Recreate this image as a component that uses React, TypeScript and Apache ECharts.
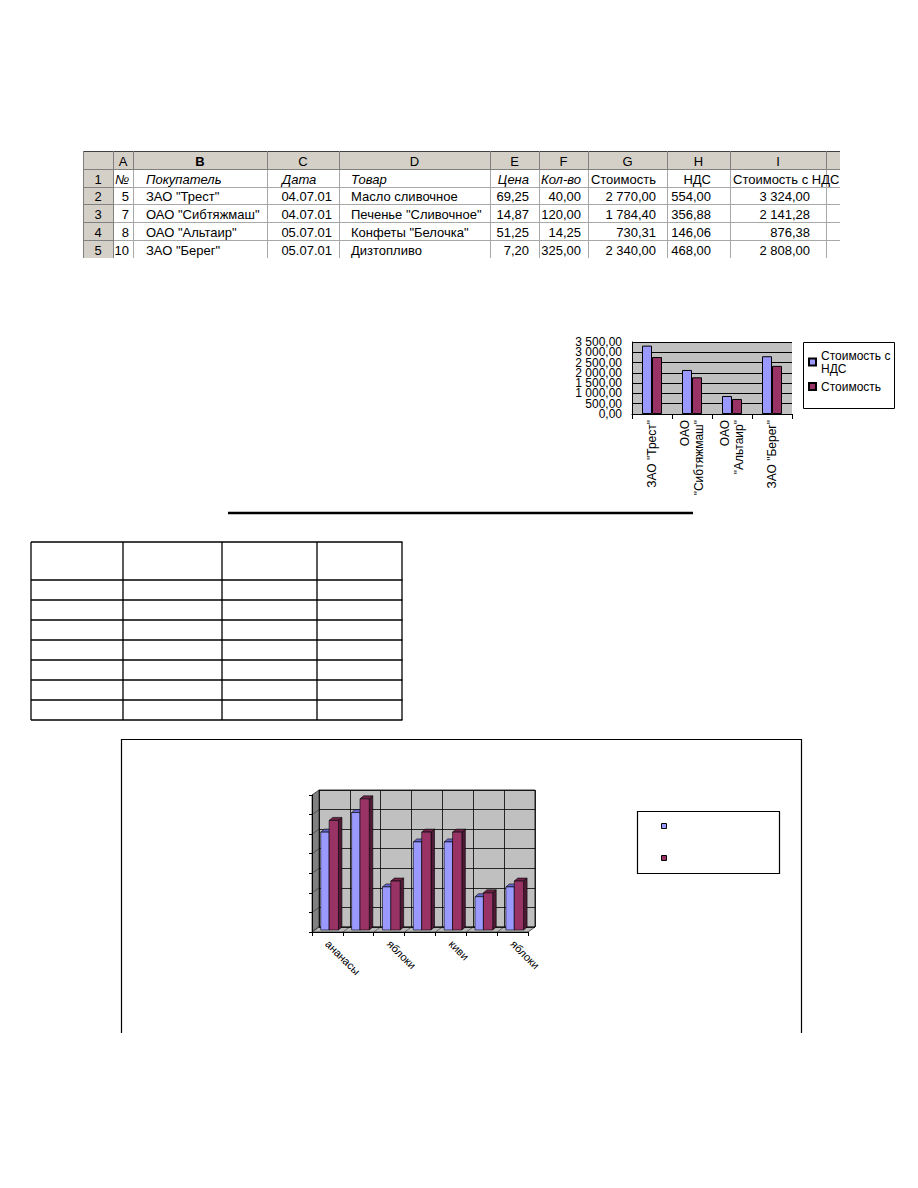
import React, { useEffect, useRef } from 'react';
import * as echarts from 'echarts';

// ---------- data: spreadsheet ----------
const rowNumbers = ['1', '2', '3', '4', '5'];
const columnLetters = ['A', 'B', 'C', 'D', 'E', 'F', 'G', 'H', 'I'];
const headers = ['№', 'Покупатель', 'Дата', 'Товар', 'Цена', 'Кол-во', 'Стоимость', 'НДС', 'Стоимость с НДС'];
const orderNo = [5, 7, 8, 10];
const buyers = ['ЗАО "Трест"', 'ОАО "Сибтяжмаш"', 'ОАО "Альтаир"', 'ЗАО "Берег"'];
const dates = ['04.07.01', '04.07.01', '05.07.01', '05.07.01'];
const goods = ['Масло сливочное', 'Печенье "Сливочное"', 'Конфеты "Белочка"', 'Дизтопливо'];
const prices = [69.25, 14.87, 51.25, 7.2];
const quantities = [40, 120, 14.25, 325];
const costs = [2770, 1784.4, 730.31, 2340];
const vats = [554, 356.88, 146.06, 468];
const costsWithVat = [3324, 2141.28, 876.38, 2808];

// ---------- data: small chart axis ----------
const smallYTicks = [0, 500, 1000, 1500, 2000, 2500, 3000, 3500];
const smallYMax = 3500;
const smallYStep = 500;

// ---------- data: 3D fruit chart ----------
const fruitCategories = ['ананасы', '', 'яблоки', '', 'киви', '', 'яблоки'];
const fruitSeriesA = [50, 60, 22, 45, 45, 17, 22];
const fruitSeriesB = [56, 67, 25, 50, 50, 19, 25];
const fruitYMax = 70;
const fruitYStep = 10;

const FONT = "'Liberation Sans', Arial, Helvetica, sans-serif";
const BLUE = '#9999FF';
const MAROON = '#993366';

function ru(v: number): string {
  const [i, f] = v.toFixed(2).split('.');
  return i.replace(/\B(?=(\d{3})+(?!\d))/g, ' ') + ',' + f;
}
function wrapName(n: string): string {
  return n.length > 12 ? n.replace(' ', '\n') : n;
}

// layout (positions only)
const COL = [83, 113, 133, 267, 339, 490, 539, 588, 667, 730, 826, 840];
const ROW = [151, 169, 187, 204, 222, 240, 258];
const dataAnchor: [number, string][] = [[129, 'right'], [146, 'left'], [332, 'right'], [351, 'left'], [529, 'right'], [581, 'right'], [656, 'right'], [711, 'right'], [810, 'right']];
const headAnchor: [number, string][] = [[115, 'left'], [146, 'left'], [282, 'left'], [351, 'left'], [529, 'right'], [581, 'right'], [656, 'right'], [711, 'right'], [733, 'left']];

function line(x1: number, y1: number, x2: number, y2: number, stroke: string, lineWidth = 1) {
  return { type: 'line', silent: true, shape: { x1, y1, x2, y2 }, style: { stroke, lineWidth } };
}
function text(x: number, y: number, t: string, align: string, extra: any = {}) {
  return {
    type: 'text', silent: true, x, y,
    style: { text: t, fill: '#000', fontSize: 13, fontFamily: FONT, align, verticalAlign: 'middle', ...extra },
  };
}

function buildSpreadsheet(): any[] {
  const els: any[] = [];
  const right = COL[COL.length - 1];
  els.push({ type: 'rect', silent: true, shape: { x: COL[0], y: ROW[0], width: right - COL[0], height: ROW[1] - ROW[0] }, style: { fill: '#D4D0C8' } });
  els.push({ type: 'rect', silent: true, shape: { x: COL[0], y: ROW[1], width: COL[1] - COL[0], height: ROW[6] - ROW[1] }, style: { fill: '#D4D0C8' } });
  for (let r = 2; r < ROW.length - 1; r++) els.push(line(COL[1], ROW[r] + 0.5, right, ROW[r] + 0.5, '#A8A8A8'));
  for (let c = 2; c < COL.length - 1; c++) els.push(line(COL[c] + 0.5, ROW[1], COL[c] + 0.5, ROW[6], '#A8A8A8'));
  els.push(line(COL[0], ROW[0] + 0.5, right, ROW[0] + 0.5, '#404040'));
  els.push(line(COL[0], ROW[1] + 0.5, right, ROW[1] + 0.5, '#808080'));
  els.push(line(COL[0] + 0.5, ROW[0], COL[0] + 0.5, ROW[6], '#808080'));
  for (let c = 1; c < COL.length - 1; c++) els.push(line(COL[c] + 0.5, ROW[0], COL[c] + 0.5, ROW[1], '#808080'));
  els.push(line(COL[1] + 0.5, ROW[1], COL[1] + 0.5, ROW[6], '#808080'));
  for (let r = 2; r < ROW.length - 1; r++) els.push(line(COL[0], ROW[r] + 0.5, COL[1], ROW[r] + 0.5, '#808080'));
  columnLetters.forEach((l, i) => {
    const cx = (COL[i + 1] + COL[i + 2]) / 2;
    els.push(text(cx, (ROW[0] + ROW[1]) / 2 + 1, l, 'center', l === 'B' ? { fontWeight: 'bold' } : {}));
  });
  rowNumbers.forEach((n, i) => {
    els.push(text((COL[0] + COL[1]) / 2, (ROW[i + 1] + ROW[i + 2]) / 2 + 1, n, 'center'));
  });
  headers.forEach((h, i) => {
    els.push(text(headAnchor[i][0], (ROW[1] + ROW[2]) / 2 + 1, h, headAnchor[i][1], i < 6 ? { fontStyle: 'italic' } : {}));
  });
  orderNo.forEach((n, r) => {
    const cells = [String(n), buyers[r], dates[r], goods[r], ru(prices[r]), ru(quantities[r]), ru(costs[r]), ru(vats[r]), ru(costsWithVat[r])];
    const cy = (ROW[r + 2] + ROW[r + 3]) / 2 + 1;
    cells.forEach((t, c) => els.push(text(dataAnchor[c][0], cy, t, dataAnchor[c][1])));
  });
  return els;
}

function buildStatic(): any[] {
  const els: any[] = [];
  els.push({ type: 'rect', silent: true, z: -1, shape: { x: 803.5, y: 342.5, width: 91, height: 66 }, style: { fill: '#fff', stroke: '#000', lineWidth: 1 } });
  els.push(line(228, 513, 693, 513, '#000', 2.5));
  const tx = [31, 123, 222, 317, 402];
  const ty = [542, 580, 600, 620, 640, 660, 680, 700, 720];
  ty.forEach((y) => els.push(line(tx[0], y, tx[tx.length - 1] + 0.5, y, '#000', 1.3)));
  tx.forEach((x) => els.push(line(x, ty[0], x, ty[ty.length - 1], '#000', 1.3)));
  els.push({ type: 'polyline', silent: true, shape: { points: [[121.5, 1033], [121.5, 739.5], [801.5, 739.5], [801.5, 1033]] }, style: { stroke: '#000', lineWidth: 1.2, fill: null } });
  const fx = 312, bx = 319, fTop = 795, bTop = 790, fBot = 932, bBot = 927, fRight = 528, bRight = 535;
  els.push({ type: 'polygon', silent: true, shape: { points: [[fx, fTop], [bx, bTop], [bx, bBot], [fx, fBot]] }, style: { fill: '#808080', stroke: '#000', lineWidth: 0.6 } });
  const n = fruitYMax / fruitYStep;
  for (let k = 1; k < n; k++) {
    const t = k / n;
    els.push(line(fx, fTop + (fBot - fTop) * t, bx, bTop + (bBot - bTop) * t, '#303030', 0.6));
  }
  els.push({ type: 'polygon', silent: true, shape: { points: [[fx, fBot], [bx, bBot], [bRight, bBot], [fRight, fBot]] }, style: { fill: '#B8B8B8', stroke: '#000', lineWidth: 0.6 } });
  const nc = fruitCategories.length;
  for (let k = 1; k < nc; k++) {
    const t = k / nc;
    els.push(line(fx + (fRight - fx) * t, fBot, bx + (bRight - bx) * t, bBot, '#303030', 0.6));
  }
  els.push({ type: 'rect', silent: true, shape: { x: 637.5, y: 811.5, width: 142, height: 62 }, style: { fill: '#fff', stroke: '#000', lineWidth: 1.2 } });
  els.push({ type: 'rect', silent: true, shape: { x: 661.5, y: 823.5, width: 5, height: 5 }, style: { fill: BLUE, stroke: '#000', lineWidth: 1 } });
  els.push({ type: 'rect', silent: true, shape: { x: 661.5, y: 855.5, width: 5, height: 5 }, style: { fill: MAROON, stroke: '#000', lineWidth: 1 } });
  return els;
}

function bar3d(front: string, top: string, side: string, off0: number, off1: number) {
  return (params: any, api: any) => {
    const i = api.value(0);
    const v = api.value(1);
    const base = api.coord([i, 0]);
    const tp = api.coord([i, v]);
    const x0 = base[0] + off0;
    const x1 = base[0] + off1;
    const yb = base[1] - 2;
    const yt = tp[1] - 2;
    const dx = 3.5, dy = -3;
    const st = { stroke: '#000', lineWidth: 0.6 };
    return {
      type: 'group',
      children: [
        { type: 'polygon', shape: { points: [[x1, yb], [x1 + dx, yb + dy], [x1 + dx, yt + dy], [x1, yt]] }, style: { fill: side, ...st } },
        { type: 'polygon', shape: { points: [[x0, yt], [x0 + dx, yt + dy], [x1 + dx, yt + dy], [x1, yt]] }, style: { fill: top, ...st } },
        { type: 'rect', shape: { x: x0, y: yt, width: x1 - x0, height: yb - yt }, style: { fill: front, ...st } },
      ],
    };
  };
}

// y-axis labels of the small chart, placed through the axis scale (Excel lets them overlap)
function yLabelItem(params: any, api: any) {
  const v = api.value(1);
  const p = api.coord([0, v]);
  const halfBand = api.size([1, 0])[0] / 2;
  return {
    type: 'text', silent: true,
    x: p[0] - halfBand - 10, y: p[1],
    style: { text: ru(v), fill: '#000', fontSize: 12, fontFamily: FONT, align: 'right', verticalAlign: 'middle' },
  };
}

export default function App() {
  const ref = useRef<HTMLDivElement>(null);
  useEffect(() => {
    if (!ref.current) return;
    const chart = echarts.init(ref.current, undefined, { renderer: 'svg' });
    const axisBlack = { lineStyle: { color: '#000', width: 1 } };
    const option: any = {
      animation: false,
      backgroundColor: '#fff',
      textStyle: { fontFamily: FONT, color: '#000' },
      grid: [
        { left: 632, top: 342, width: 160, height: 72, show: true, backgroundColor: '#C0C0C0', borderWidth: 0 },
        { left: 319, top: 790, width: 216, height: 137, show: true, backgroundColor: '#C0C0C0', borderColor: '#000', borderWidth: 0.8 },
        { left: 312, top: 795, width: 216, height: 137, show: false },
      ],
      xAxis: [
        {
          type: 'category', gridIndex: 0, data: buyers,
          axisLine: { show: true, ...axisBlack },
          axisTick: { show: true, length: 5, interval: 0, lineStyle: { color: '#000' } },
          axisLabel: { interval: 0, rotate: 90, fontSize: 12, color: '#000', margin: 6, lineHeight: 14, formatter: (n: string) => wrapName(n) },
          splitLine: { show: false },
        },
        {
          type: 'category', gridIndex: 1, data: fruitCategories,
          axisLine: { show: false }, axisTick: { show: false }, axisLabel: { show: false },
          splitLine: { show: true, interval: 0, lineStyle: { color: '#000', width: 0.8 } },
        },
        {
          type: 'category', gridIndex: 2, data: fruitCategories,
          axisLine: { show: true, ...axisBlack },
          axisTick: { show: true, length: 4, interval: 0, lineStyle: { color: '#000' } },
          axisLabel: { interval: 0, rotate: -45, fontSize: 11, color: '#000', margin: 10 },
          splitLine: { show: false },
        },
      ],
      yAxis: [
        {
          type: 'value', gridIndex: 0, min: 0, max: smallYMax, interval: smallYStep,
          axisLine: { show: true, ...axisBlack }, axisTick: { show: false },
          axisLabel: { show: false },
          splitLine: { show: true, lineStyle: { color: '#000', width: 1 } },
        },
        {
          type: 'value', gridIndex: 1, min: 0, max: fruitYMax, interval: fruitYStep,
          axisLine: { show: false }, axisTick: { show: false }, axisLabel: { show: false },
          splitLine: { show: true, lineStyle: { color: '#000', width: 0.8 } },
        },
        {
          type: 'value', gridIndex: 2, min: 0, max: fruitYMax, interval: fruitYStep,
          axisLine: { show: true, ...axisBlack },
          axisTick: { show: true, length: 3, lineStyle: { color: '#000' } },
          axisLabel: { show: false }, splitLine: { show: false },
        },
      ],
      legend: {
        data: ['Стоимость с НДС', 'Стоимость'],
        orient: 'vertical', left: 808, top: 349, padding: 0, itemGap: 5,
        itemWidth: 7, itemHeight: 7, icon: 'rect',
        textStyle: { fontSize: 12, color: '#000', lineHeight: 13, fontFamily: FONT },
        formatter: (n: string) => (n === 'Стоимость с НДС' ? 'Стоимость с\nНДС' : n),
      },
      series: [
        {
          name: 'Стоимость с НДС', type: 'bar', xAxisIndex: 0, yAxisIndex: 0, data: costsWithVat,
          barWidth: 10, barGap: '0%', itemStyle: { color: BLUE, borderColor: '#000', borderWidth: 1 },
        },
        {
          name: 'Стоимость', type: 'bar', xAxisIndex: 0, yAxisIndex: 0, data: costs,
          barWidth: 10, barGap: '0%', itemStyle: { color: MAROON, borderColor: '#000', borderWidth: 1 },
        },
        {
          name: 'yTickLabels', type: 'custom', xAxisIndex: 0, yAxisIndex: 0, clip: false, silent: true,
          data: smallYTicks.map((v) => [0, v]),
          renderItem: yLabelItem,
        },
        {
          name: 'fruitA', type: 'custom', xAxisIndex: 2, yAxisIndex: 2, z: 5,
          data: fruitSeriesA.map((v, i) => [i, v]),
          renderItem: bar3d(BLUE, '#6666CC', '#5555AA', -6.7, 1.7),
        },
        {
          name: 'fruitB', type: 'custom', xAxisIndex: 2, yAxisIndex: 2, z: 6,
          data: fruitSeriesB.map((v, i) => [i, v]),
          renderItem: bar3d(MAROON, '#6E2449', '#4F1A35', 1.7, 11),
        },
      ],
      graphic: { elements: [...buildSpreadsheet(), ...buildStatic()] },
    };
    chart.setOption(option);
    return () => chart.dispose();
  }, []);
  return <div ref={ref} style={{ position: 'absolute', left: 0, top: 0, width: 918, height: 1188 }} />;
}
